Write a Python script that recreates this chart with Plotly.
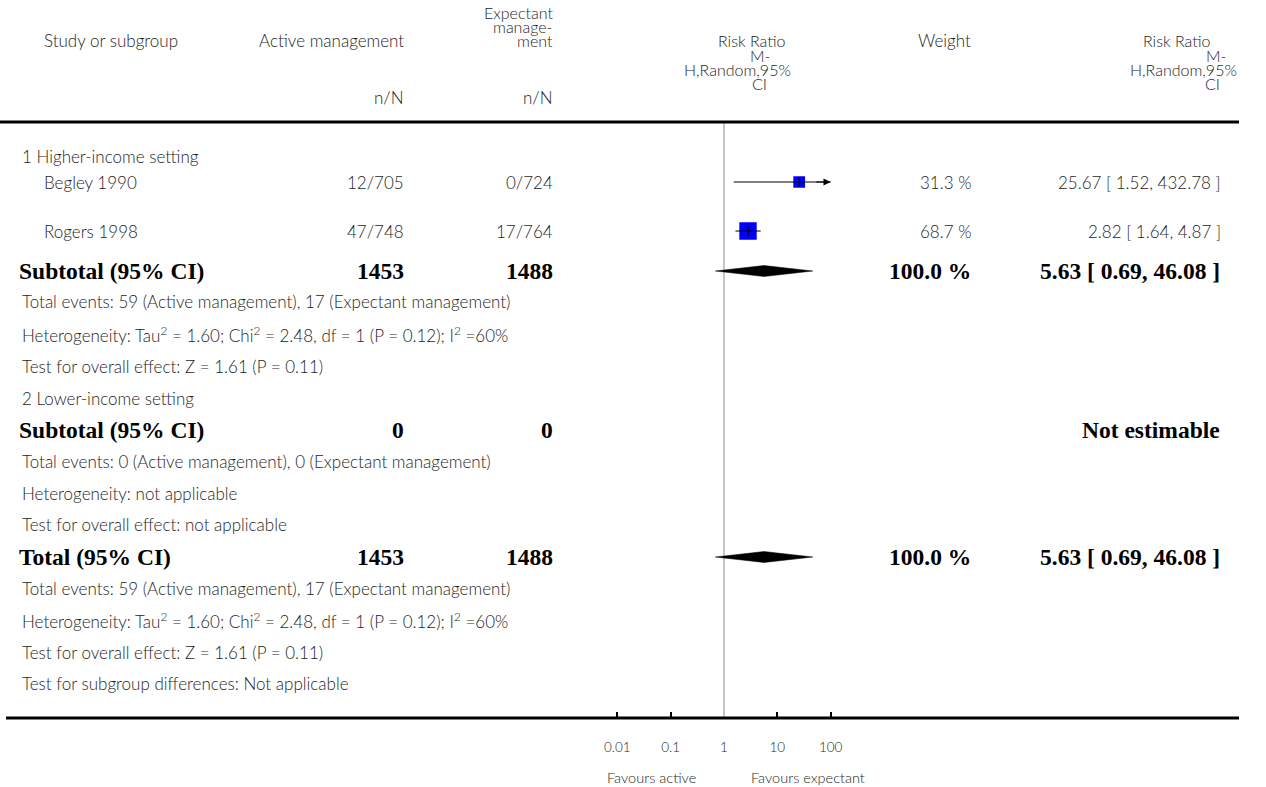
import plotly.graph_objects as go
import math

# ---------------- data ----------------
studies = ["Begley 1990", "Rogers 1998"]
active_events = [12, 47]
active_total = [705, 748]
expect_events = [0, 17]
expect_total = [724, 764]
weights = [31.3, 68.7]
rr = [25.67, 2.82]
rr_lo = [1.52, 1.64]
rr_hi = [432.78, 4.87]

sub1_active_total = 1453
sub1_expect_total = 1488
sub1_rr, sub1_lo, sub1_hi = 5.63, 0.69, 46.08
sub1_weight = 100.0
sub2_active_total = 0
sub2_expect_total = 0
total_rr, total_lo, total_hi = 5.63, 0.69, 46.08
total_active_total = 1453
total_expect_total = 1488
total_weight = 100.0

tick_vals = [0.01, 0.1, 1, 10, 100]
tick_text = ["0.01", "0.1", "1", "10", "100"]
mark_ticks = [0.01, 0.1, 10, 100]
axis_min, axis_max = 0.01, 100

# ---------------- layout constants ----------------
W, H = 1266, 787
SANS = "Lato"
SERIF = "Liberation Serif"
FS = 17
FS_STACK = 16
FSB = 23.5
TXT = "#1e1e1e"
SANS_WEIGHT = 300

X_LEFT = 20
X_BOLD = 17
X_STUDY = 42
X_HDR_STUDY = 42
X_ACT = 406
X_EXP = 555
X_WT = 973
X_RR = 1222
PLOT_X0, PLOT_X1 = 617.3, 830.7   # pixel positions of axis_min / axis_max
PAD = 0.05                          # decades of padding so edge ticks are drawn
TOP_RULE_Y = 122
BOT_RULE_Y = 718

row_y = {
    "grp1": 156, "begley": 182, "rogers": 231, "sub1": 271,
    "s1_ev": 301, "s1_het": 334, "s1_test": 366,
    "grp2": 398, "sub2": 430, "s2_ev": 461, "s2_het": 493, "s2_test": 524,
    "tot": 557, "t_ev": 588, "t_het": 620, "t_test": 652, "t_sub": 683,
}

fig = go.Figure()
ann = []


def txt(x, y, s, anchor="left", bold=False, size=None):
    ann.append(dict(
        x=x / W, y=y, xref="paper", yref="y", text=s, showarrow=False,
        xanchor=anchor, yanchor="middle",
        font=dict(family=SERIF if bold else SANS,
                  size=size or (FSB if bold else FS), color="black" if bold else TXT,
                  weight="bold" if bold else SANS_WEIGHT),
    ))


# header
txt(X_HDR_STUDY, 40, "Study or subgroup")
txt(X_ACT, 40, "Active management", "right")
txt(X_EXP, 12, "Expectant", "right", size=FS_STACK)
txt(X_EXP, 26, "manage-", "right", size=FS_STACK)
txt(X_EXP, 40, "ment", "right", size=FS_STACK)
txt(X_ACT, 97, "n/N", "right")
txt(X_EXP, 97, "n/N", "right")
for y, s, xc in [(40, "Risk Ratio", 751), (55, "M-", 760), (69, "H,Random,95%", 737), (83, "CI", 759)]:
    txt(xc, y, s, "center", size=FS_STACK)
txt(X_WT, 40, "Weight", "right")
for y, s, xr in [(40, "Risk Ratio", 1212), (55, "M-", 1228), (69, "H,Random,95%", 1239), (83, "CI", 1222)]:
    txt(xr, y, s, "right", size=FS_STACK)

# group 1
txt(X_LEFT, row_y["grp1"], "1 Higher-income setting")
for key, i in [("begley", 0), ("rogers", 1)]:
    y = row_y[key]
    txt(X_STUDY, y, studies[i])
    txt(X_ACT, y, f"{active_events[i]}/{active_total[i]}", "right")
    txt(X_EXP, y, f"{expect_events[i]}/{expect_total[i]}", "right")
    txt(X_WT, y, f"{weights[i]:.1f} %", "right")
    txt(X_RR + 1, y, f"{rr[i]:.2f} [ {rr_lo[i]:.2f}, {rr_hi[i]:.2f} ]", "right")

het = "Heterogeneity: Tau<sup>2</sup> = 1.60; Chi<sup>2</sup> = 2.48, df = 1 (P = 0.12); I<sup>2</sup> =60%"
ev = "Total events: 59 (Active management), 17 (Expectant management)"
test = "Test for overall effect: Z = 1.61 (P = 0.11)"

txt(X_BOLD, row_y["sub1"], "Subtotal (95% CI)", bold=True)
txt(X_ACT, row_y["sub1"], str(sub1_active_total), "right", bold=True)
txt(X_EXP, row_y["sub1"], str(sub1_expect_total), "right", bold=True)
txt(X_WT, row_y["sub1"], f"{sub1_weight:.1f} %", "right", bold=True)
txt(X_RR, row_y["sub1"], f"{sub1_rr:.2f} [ {sub1_lo:.2f}, {sub1_hi:.2f} ]", "right", bold=True)
txt(X_LEFT, row_y["s1_ev"], ev)
txt(X_LEFT, row_y["s1_het"], het)
txt(X_LEFT, row_y["s1_test"], test)

# group 2
txt(X_LEFT, row_y["grp2"], "2 Lower-income setting")
txt(X_BOLD, row_y["sub2"], "Subtotal (95% CI)", bold=True)
txt(X_ACT, row_y["sub2"], str(sub2_active_total), "right", bold=True)
txt(X_EXP, row_y["sub2"], str(sub2_expect_total), "right", bold=True)
txt(X_RR, row_y["sub2"], "Not estimable", "right", bold=True)
txt(X_LEFT, row_y["s2_ev"], "Total events: 0 (Active management), 0 (Expectant management)")
txt(X_LEFT, row_y["s2_het"], "Heterogeneity: not applicable")
txt(X_LEFT, row_y["s2_test"], "Test for overall effect: not applicable")

# total
txt(X_BOLD, row_y["tot"], "Total (95% CI)", bold=True)
txt(X_ACT, row_y["tot"], str(total_active_total), "right", bold=True)
txt(X_EXP, row_y["tot"], str(total_expect_total), "right", bold=True)
txt(X_WT, row_y["tot"], f"{total_weight:.1f} %", "right", bold=True)
txt(X_RR, row_y["tot"], f"{total_rr:.2f} [ {total_lo:.2f}, {total_hi:.2f} ]", "right", bold=True)
txt(X_LEFT, row_y["t_ev"], ev)
txt(X_LEFT, row_y["t_het"], het)
txt(X_LEFT, row_y["t_test"], test)
txt(X_LEFT, row_y["t_sub"], "Test for subgroup differences: Not applicable")

# favours labels
txt(652, 777, "Favours active", "center", size=14.5)
txt(808, 777, "Favours expectant", "center", size=14.5)

# ---------------- forest marks ----------------
fig.add_trace(go.Scatter(x=[1, 1], y=[TOP_RULE_Y, BOT_RULE_Y], mode="lines",
                         line=dict(color="#b3b3b3", width=1.5), hoverinfo="skip"))

study_keys = ["begley", "rogers"]
ys = [row_y[k] for k in study_keys]
fig.add_trace(go.Scatter(x=rr, y=ys, mode="markers",
                         marker=dict(symbol="square", color="#0000ff", opacity=1,
                                     size=[21 * math.sqrt(w / 100) for w in weights],
                                     line=dict(width=0)), hoverinfo="skip"))
for i, y in enumerate(ys):
    hi = min(rr_hi[i], axis_max)
    fig.add_trace(go.Scatter(x=[rr_lo[i], hi], y=[y, y], mode="lines",
                             line=dict(color="black", width=1.2), hoverinfo="skip"))
    if rr_hi[i] > axis_max:
        ann.append(dict(x=math.log10(axis_max), y=y, xref="x", yref="y",
                        ax=math.log10(axis_max) - 0.3, ay=y, axref="x", ayref="y",
                        showarrow=True, arrowhead=2, arrowsize=1.2, arrowwidth=1.2,
                        arrowcolor="black", text=""))
fig.add_trace(go.Scatter(x=rr, y=ys, mode="markers",
                         marker=dict(symbol="line-ns", size=7, line=dict(width=1.2, color="black")),
                         hoverinfo="skip"))
for (est, lo, hi, key) in [(sub1_rr, sub1_lo, sub1_hi, "sub1"), (total_rr, total_lo, total_hi, "tot")]:
    y = row_y[key]
    fig.add_trace(go.Scatter(x=[lo, est, hi, est, lo], y=[y, y - 5.5, y, y + 5.5, y],
                             mode="lines", fill="toself", fillcolor="black",
                             line=dict(color="black", width=0.5), hoverinfo="skip"))

shapes = [
    dict(type="line", xref="paper", yref="y", x0=0 / W, x1=1239 / W, y0=TOP_RULE_Y, y1=TOP_RULE_Y,
         line=dict(color="black", width=3)),
    dict(type="line", xref="paper", yref="y", x0=6 / W, x1=1239 / W, y0=BOT_RULE_Y, y1=BOT_RULE_Y,
         line=dict(color="black", width=3)),
]

px_per_dec = (PLOT_X1 - PLOT_X0) / (math.log10(axis_max) - math.log10(axis_min))
dom = [(PLOT_X0 - PAD * px_per_dec) / W, (PLOT_X1 + PAD * px_per_dec) / W]
rng = [math.log10(axis_min) - PAD, math.log10(axis_max) + PAD]
axis_pos = 1 - BOT_RULE_Y / H

fig.update_layout(
    template="none",
    width=W, height=H, autosize=False,
    margin=dict(l=0, r=0, t=0, b=0, pad=0, autoexpand=False),
    paper_bgcolor="white", plot_bgcolor="rgba(0,0,0,0)",
    showlegend=False, annotations=ann, shapes=shapes,
    xaxis=dict(type="log", domain=dom, range=rng, automargin=False,
               anchor="free", position=axis_pos,
               tickvals=tick_vals, ticktext=tick_text, ticks="",
               showgrid=False, zeroline=False, showline=False,
               tickfont=dict(family=SANS, size=13.5, color=TXT, weight=SANS_WEIGHT),
               ticklabelstandoff=19),
    xaxis2=dict(type="log", domain=dom, range=rng, automargin=False,
                overlaying="x", anchor="free", position=axis_pos, side="bottom",
                tickvals=mark_ticks, ticks="inside", ticklen=6, tickwidth=2, tickcolor="black",
                showticklabels=False, showgrid=False, zeroline=False, showline=False),
    yaxis=dict(range=[H, 0], domain=[0, 1], visible=False, automargin=False,
               showgrid=False, zeroline=False),
)
fig.add_trace(go.Scatter(x=[1], y=[-100], xaxis="x2", mode="markers",
                         marker=dict(opacity=0), hoverinfo="skip"))

fig.write_html(
    "out.html",
    config={"displayModeBar": False},
    post_script=("document.documentElement.style.overflow='hidden';"
                 "document.body.style.margin='0';document.body.style.padding='0';"
                 "document.body.style.overflow='hidden';"),
)
